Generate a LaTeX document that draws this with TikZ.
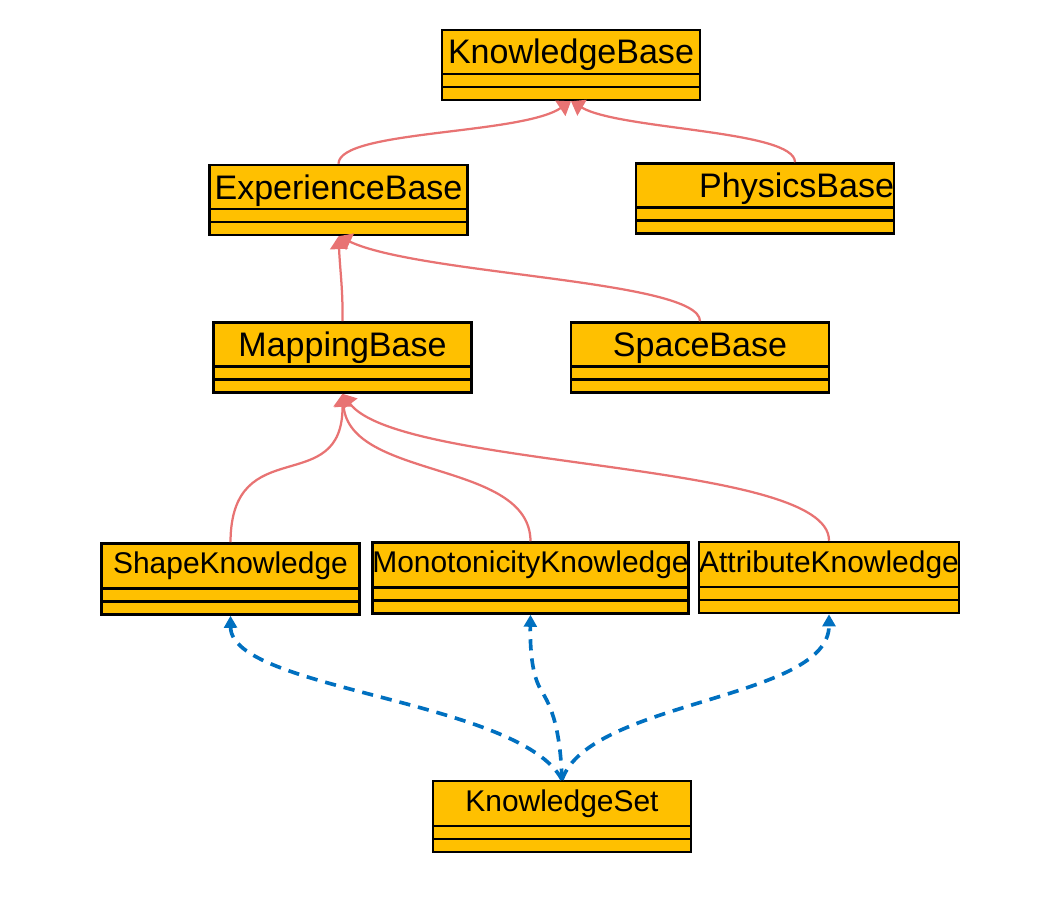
\documentclass[tikz,border=0pt]{standalone}
\usepackage{fontspec}
\setmainfont{Liberation Sans}
\usetikzlibrary{arrows.meta}
\definecolor{classfill}{HTML}{FFC000}
\definecolor{inherit}{HTML}{E87373}
\definecolor{depend}{HTML}{0070C0}

\begin{document}
\begin{tikzpicture}[x=0.025cm, y=-0.025cm,
  umlclass/.style={draw, line width=1.8pt, fill=classfill, inner sep=0pt, minimum width=6.45cm,
    path picture={
      \draw[line width=1.6pt]
        ([yshift=0.65cm]path picture bounding box.south west) -- ([yshift=0.65cm]path picture bounding box.south east)
        ([yshift=0.325cm]path picture bounding box.south west) -- ([yshift=0.325cm]path picture bounding box.south east);
    }},
  bigclass/.style={umlclass, font=\fontsize{24.2}{29}\selectfont, text height=0.85cm, text depth=0.9cm},
  smallclass/.style={umlclass, font=\fontsize{21.3}{26}\selectfont, text height=0.76cm, text depth=1.015cm},
  generalize/.style={draw=inherit, line width=1.6pt, -{Triangle[length=0.32cm, width=0.45cm]}},
  uses/.style={draw=depend, line width=2.6pt, dash pattern=on 0.28cm off 0.2cm, -{Triangle[length=0.3cm, width=0.32cm]}}
]
\useasboundingbox (0,0) rectangle (1043,906);

% base classes
\node[bigclass] (knowledgebase) at (571,65) {KnowledgeBase};
\node[bigclass] (experiencebase) at (338.5,200) {ExperienceBase};
\node[bigclass, text width=6.45cm, align=right] (physicsbase) at (765,198.5) {PhysicsBase};
\node[bigclass] (mappingbase) at (342.5,357.5) {MappingBase};
\node[bigclass] (spacebase) at (700,357.5) {SpaceBase};

% knowledge classes
\node[smallclass] (shapeknowledge) at (230.5,579) {ShapeKnowledge};
\node[smallclass, minimum width=7.875cm] (monotonicityknowledge) at (530.5,578) {MonotonicityKnowledge};
\node[smallclass] (attributeknowledge) at (829,577.5) {AttributeKnowledge};
\node[smallclass] (knowledgeset) at (562,816.5) {KnowledgeSet};

% inheritance
\draw[generalize] (experiencebase.north) .. controls (339,130) and (520,135) .. (knowledgebase.south);
\draw[generalize] ([xshift=0.75cm]physicsbase.north) .. controls (795,130) and (620,130) .. (knowledgebase.south);
\draw[generalize] (mappingbase.north) .. controls (343,290) and (340,270) .. (experiencebase.south);
\draw[generalize] (spacebase.north) .. controls (700,280) and (420,275) .. (experiencebase.south);
\draw[generalize] (shapeknowledge.north) .. controls (231,430) and (343,500) .. (mappingbase.south);
\draw[generalize] (monotonicityknowledge.north) .. controls (530,460) and (350,480) .. (mappingbase.south);
\draw[generalize] (attributeknowledge.north) .. controls (830,460) and (400,470) .. (mappingbase.south);

% dependencies
\draw[uses] (knowledgeset.north) .. controls (520,700) and (231,690) .. (shapeknowledge.south);
\draw[uses] (knowledgeset.north) .. controls (560,720) and (548,702) .. (541,690)
  .. controls (532,675) and (530,650) .. (monotonicityknowledge.south);
\draw[uses] (knowledgeset.north) .. controls (590,700) and (829,700) .. (attributeknowledge.south);
\end{tikzpicture}
\end{document}
